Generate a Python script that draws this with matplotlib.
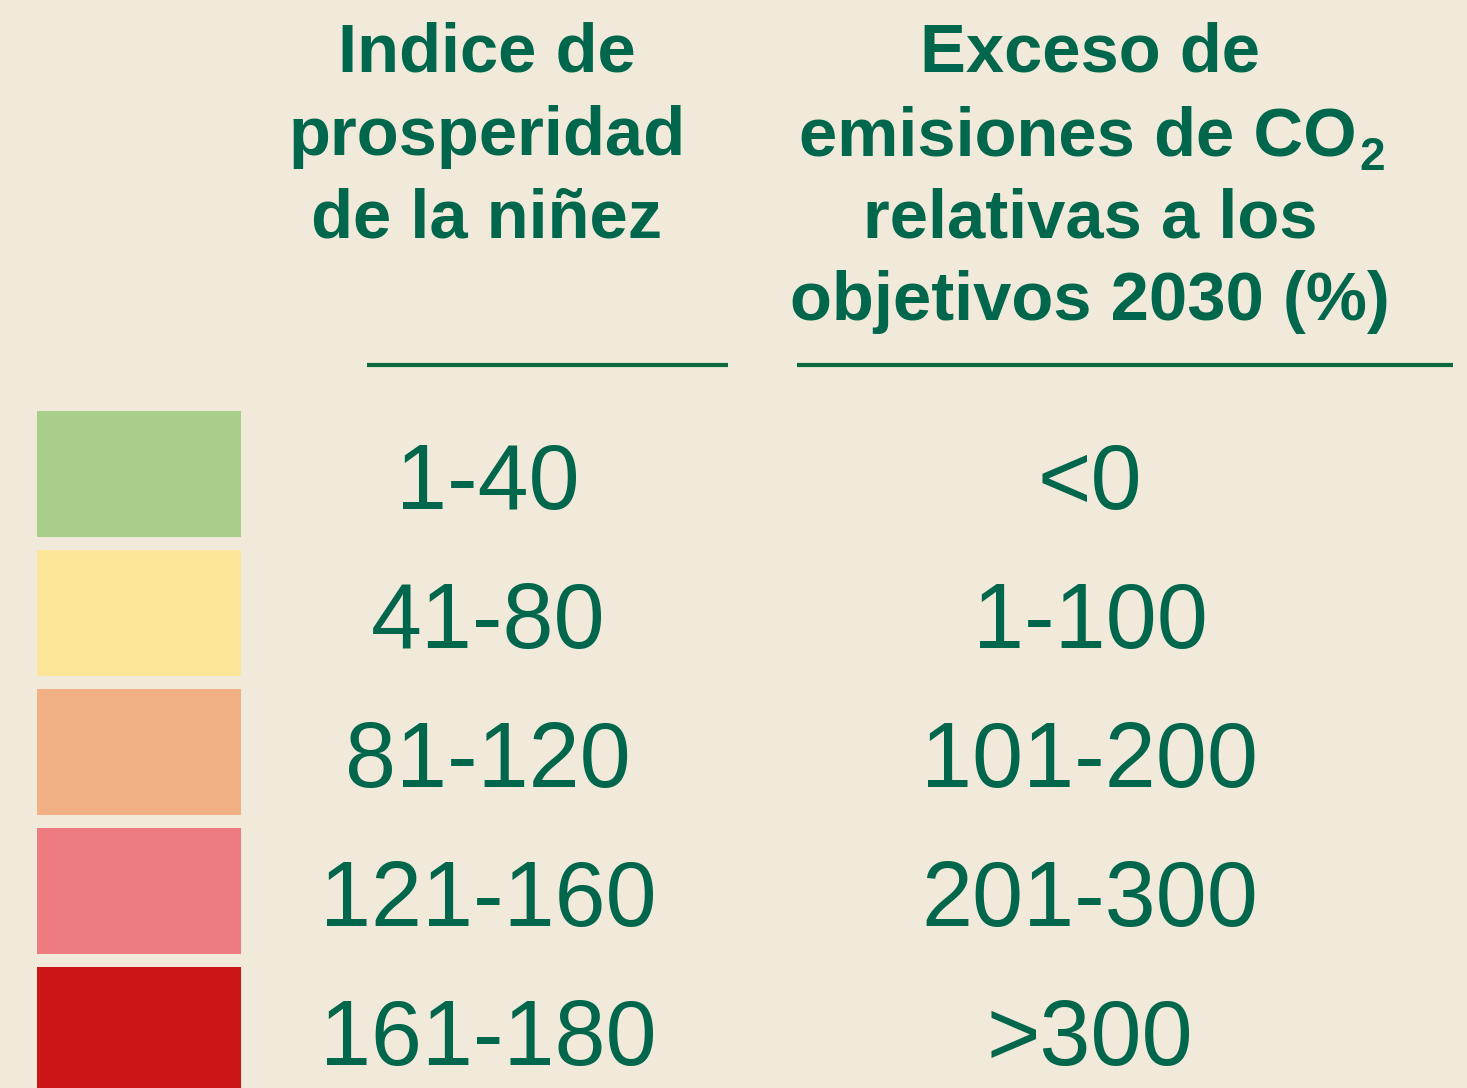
import numpy as np
import matplotlib as mpl
mpl.use("Agg")
from matplotlib import pyplot as plt

mpl.rcParams.update({
    "font.family": ["Liberation Sans", "DejaVu Sans"],
})

# legend content
swatch_colors = ["#A8CF8A", "#FDE69A", "#F2B184", "#EE7B80", "#CB1517"]
prosperity_ranges = ["1-40", "41-80", "81-120", "121-160", "161-180"]
co2_ranges = ["<0", "1-100", "101-200", "201-300", ">300"]
header_left = ["Indice de", "prosperidad", "de la niñez"]
header_right = ["Exceso de", "emisiones de CO", "relativas a los",
                "objetivos 2030 (%)"]

bg = "#F1E9DA"
green = "#00664C"
W, H = 1467, 1088
pitch = 139.0
row0 = 474.0

fig = plt.figure(figsize=(W / 100, H / 100), dpi=100)
fig.patch.set_facecolor(bg)
ax = fig.add_axes([0, 0, 1, 1])
ax.set_facecolor(bg)
ax.set_xlim(0, W)
ax.set_ylim((H - row0) / pitch, -row0 / pitch)
ax.axis("off")

rows = np.arange(len(swatch_colors))
ax.barh(rows, 204, left=37, height=126 / pitch, color=swatch_colors)


def py(p):
    # pixel row -> row units
    return (p - row0) / pitch


off = py(509) - py(474)
for i in rows:
    ax.text(488, i + off, prosperity_ranges[i], ha="center",
            va="baseline", fontsize=66, color=green)
    ax.text(1090, i + off, co2_ranges[i], ha="center",
            va="baseline", fontsize=66, color=green)

base = [71, 155, 238, 320]
for k, s in enumerate(header_left):
    ax.text(487, py(base[k]), s, ha="center", va="baseline", fontsize=49.5,
            fontweight="bold", color=green)
for k, s in enumerate(header_right):
    if k == 1:
        # CO + subscript 2 drawn separately
        ax.text(1357, py(base[k]), s, ha="right", va="baseline", fontsize=49.5,
                fontweight="bold", color=green)
        ax.text(1359, py(170), "2", ha="left", va="baseline", fontsize=33,
                fontweight="bold", color=green)
    else:
        ax.text(1090, py(base[k]), s, ha="center", va="baseline", fontsize=49.5,
                fontweight="bold", color=green)

ax.plot([367, 728], [py(365), py(365)], color="#0B6B3E", lw=3, solid_capstyle="butt")
ax.plot([797, 1453], [py(365), py(365)], color="#0B6B3E", lw=3, solid_capstyle="butt")

fig.savefig("out.png", dpi=100, facecolor=bg)
